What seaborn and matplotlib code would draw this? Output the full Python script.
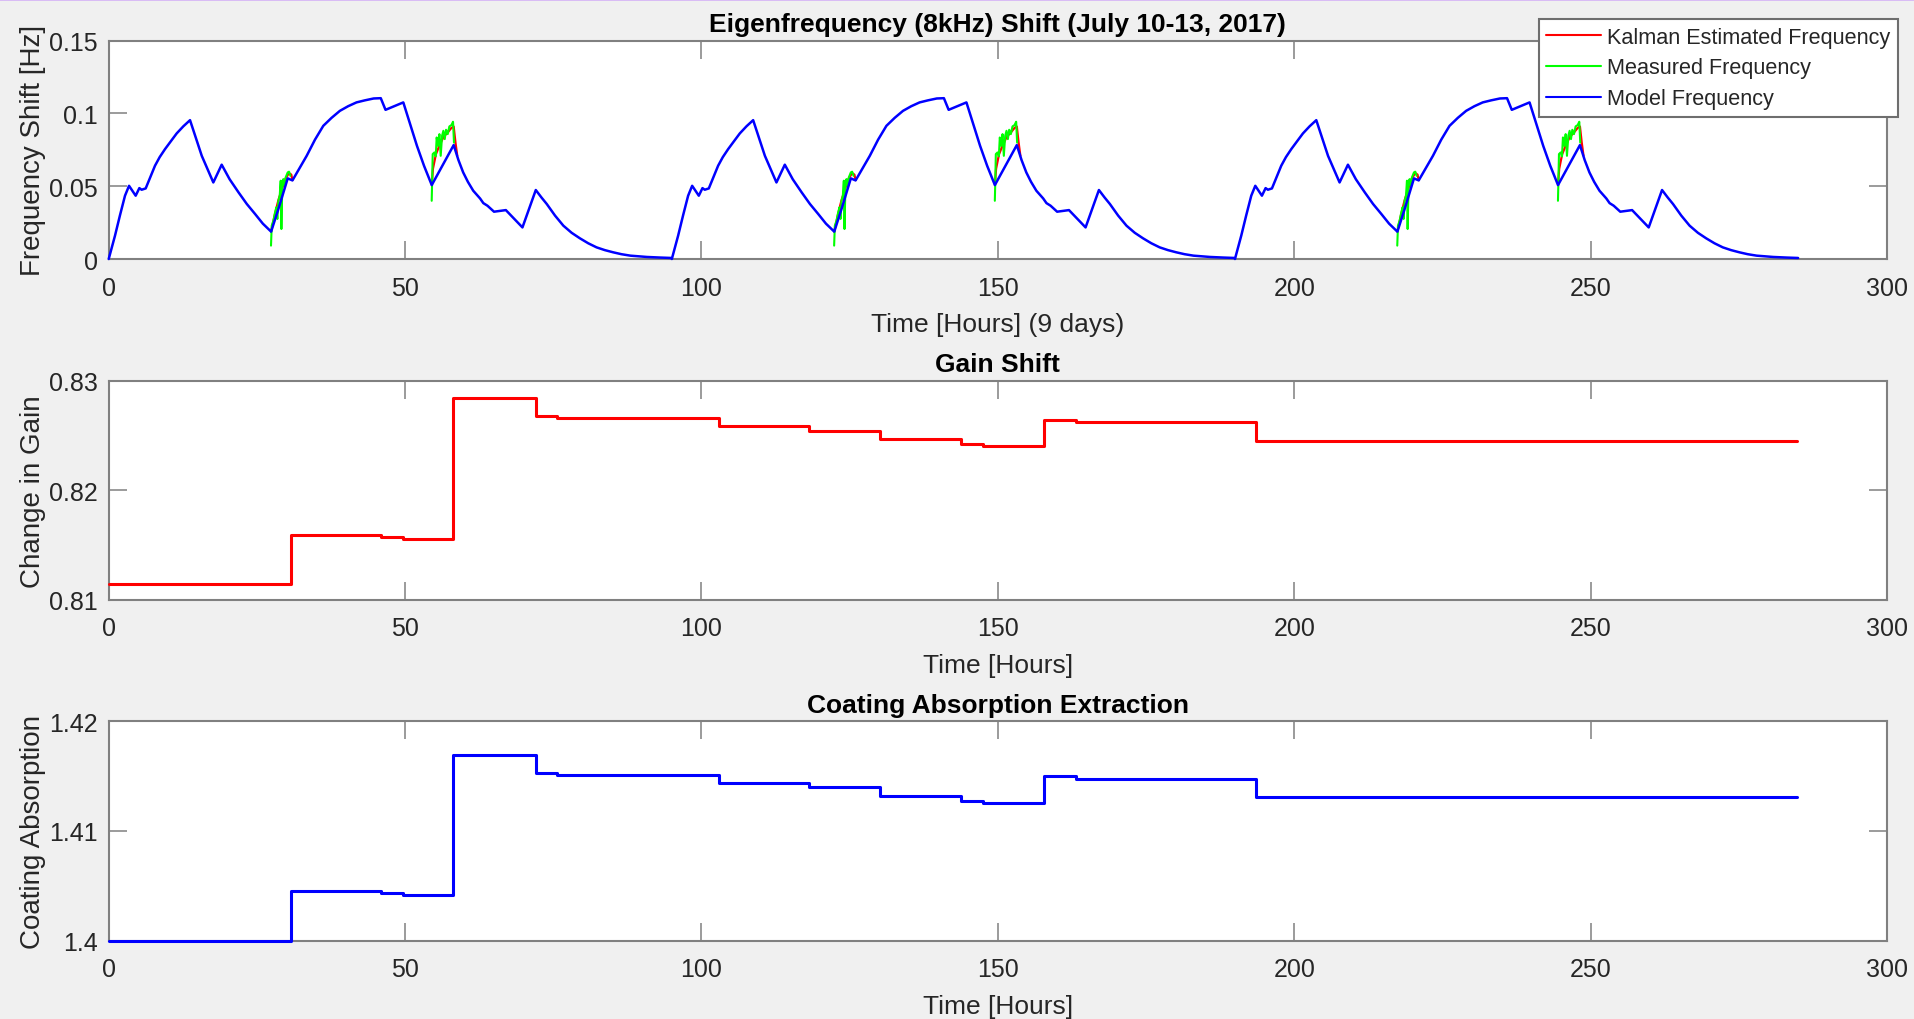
import numpy as np
import pandas as pd
import matplotlib
matplotlib.use("Agg")
import matplotlib.pyplot as plt
import seaborn as sns
from matplotlib.lines import Line2D
from matplotlib.patches import Rectangle

# ---------------------------------------------------------------------------
# Eigenfrequency shift over one 95 h operating cycle (hours from cycle start, Hz)
model_hours = [0.0, 1.06, 1.9, 2.75, 3.43, 4.55, 5.17, 5.56, 6.24, 7.81, 8.6, 9.5,
               10.5, 11.47, 12.6, 13.72, 15.7, 17.65, 19.06, 20.4, 21.9, 23.3,
               24.7, 26.0, 27.4, 28.6, 30.2, 31.0, 33.4, 34.8, 36.2, 37.6, 39.0,
               40.4, 41.8, 43.2, 44.7, 45.9, 46.7, 49.7, 52.0, 53.2, 54.5, 58.2,
               59.0, 59.8, 60.6, 61.5, 62.65, 63.2, 63.9, 65.0, 67.0, 69.8, 72.05,
               73.0, 73.9, 75.3, 76.7, 78.1, 79.5, 80.9, 82.3, 83.7, 85.1, 86.5,
               88.0, 90.8, 93.0, 95.0]
model_shift = [0.0, 0.016, 0.030, 0.0435, 0.0503, 0.0435, 0.0487, 0.0476, 0.0485,
               0.0641, 0.070, 0.0755, 0.081, 0.0863, 0.0912, 0.0954, 0.0709,
               0.0526, 0.0648, 0.0548, 0.0458, 0.0378, 0.0309, 0.0243, 0.0188,
               0.034, 0.0554, 0.0540, 0.0709, 0.082, 0.0915, 0.097, 0.1018,
               0.105, 0.1076, 0.109, 0.1103, 0.1105, 0.1025, 0.1076, 0.0778,
               0.064, 0.0508, 0.0783, 0.068, 0.0595, 0.053, 0.0469, 0.0416,
               0.0384, 0.0366, 0.0325, 0.0336, 0.0217, 0.0474, 0.0423, 0.0378,
               0.0298, 0.0229, 0.0180, 0.0142, 0.0108, 0.0080, 0.0061, 0.0046,
               0.0033, 0.0023, 0.0014, 0.0010, 0.0007]

# Measured eigenfrequency in the two measurement windows of a cycle
measured_hours_1 = [27.38, 27.5, 27.78, 28.06, 28.28, 28.45, 28.62, 28.85, 29.02,
                    29.13, 29.3, 29.46, 29.64, 29.86, 30.2, 30.42, 30.65]
measured_shift_1 = [0.0092, 0.0229, 0.0263, 0.032, 0.0355, 0.0275, 0.040, 0.0435,
                    0.0538, 0.0206, 0.0526, 0.0549, 0.0503, 0.0561, 0.0595, 0.060,
                    0.0572]
measured_hours_2 = [54.49, 54.55, 54.66, 54.94, 55.17, 55.33, 55.56, 55.79, 56.01,
                    56.24, 56.46, 56.69, 56.91, 57.19, 57.47, 57.81, 58.09, 58.25]
measured_shift_2 = [0.040, 0.0503, 0.0721, 0.0732, 0.0705, 0.0835, 0.0778, 0.0858,
                    0.0709, 0.0847, 0.0881, 0.0824, 0.0888, 0.0858, 0.0911, 0.092,
                    0.0943, 0.080]

# Kalman estimate where it departs from the model
kalman_hours_1 = [27.4, 28.0, 28.6, 29.2, 29.8, 30.4, 30.8, 31.0]
kalman_shift_1 = [0.0188, 0.030, 0.040, 0.048, 0.055, 0.059, 0.058, 0.0542]
kalman_hours_2 = [54.5, 54.7, 55.2, 55.8, 56.5, 57.2, 57.8, 58.2, 58.5, 58.8]
kalman_shift_2 = [0.0508, 0.062, 0.072, 0.078, 0.084, 0.087, 0.090, 0.091, 0.080,
                  0.071]

cycle_starts = [0.0, 95.0, 190.0]

# Extracted parameters (piecewise constant, value holds from each change time)
change_hours = [0.0, 30.7, 46.0, 49.6, 58.1, 72.1, 75.6, 103.0, 118.2, 130.2,
                143.8, 147.5, 157.8, 163.1, 193.5, 284.9]
gain_values = [0.8114, 0.8159, 0.8157, 0.81554, 0.82839, 0.82677, 0.82662,
               0.82583, 0.8254, 0.82467, 0.82422, 0.82403, 0.82644, 0.8262,
               0.82452, 0.82452]
absorption_values = [1.4000, 1.40453, 1.40432, 1.40413, 1.41693, 1.41529, 1.41514,
                     1.41438, 1.41398, 1.41319, 1.41277, 1.41255, 1.41498, 1.41477,
                     1.41310, 1.41310]

x_ticks = [0, 50, 100, 150, 200, 250, 300]
freq_ticks = [0, 0.05, 0.1, 0.15]
freq_tick_labels = ["0", "0.05", "0.1", "0.15"]
gain_ticks = [0.81, 0.82, 0.83]
gain_tick_labels = ["0.81", "0.82", "0.83"]
abs_ticks = [1.40, 1.41, 1.42]
abs_tick_labels = ["1.4", "1.41", "1.42"]

# ---------------------------------------------------------------------------
def cycles(hours, values):
    frames = []
    for k, start in enumerate(cycle_starts):
        frames.append(pd.DataFrame({"hours": np.asarray(hours) + start,
                                    "value": values, "segment": k}))
    return pd.concat(frames, ignore_index=True)


model_df = cycles(model_hours, model_shift)
measured_df = pd.concat([cycles(measured_hours_1, measured_shift_1).assign(win=1),
                         cycles(measured_hours_2, measured_shift_2).assign(win=2)],
                        ignore_index=True)
measured_df["segment"] = measured_df["segment"] * 2 + measured_df["win"]
kalman_df = pd.concat([cycles(kalman_hours_1, kalman_shift_1).assign(win=1),
                       cycles(kalman_hours_2, kalman_shift_2).assign(win=2)],
                      ignore_index=True)
kalman_df["segment"] = kalman_df["segment"] * 2 + kalman_df["win"]
param_df = pd.DataFrame({"hours": change_hours, "gain": gain_values,
                         "absorption": absorption_values})

# ---------------------------------------------------------------------------
sns.set_theme(style="white")
plt.rcParams["font.family"] = ["Liberation Sans", "DejaVu Sans"]

BG = "#F0F0F0"
EDGE = "#808080"
TEXT = "#262626"
W, H = 1915, 1020

fig = plt.figure(figsize=(W / 100, H / 100), dpi=100, facecolor=BG)
fig.add_artist(Rectangle((0, 1 - 2 / H), 1, 2 / H, transform=fig.transFigure,
                         facecolor="#D9BCF5", edgecolor="none"))

left, width = 108.7 / W, (1887 - 108.7) / W


def make_axes(top_px, bottom_px):
    return fig.add_axes([left, 1 - bottom_px / H, width, (bottom_px - top_px) / H])


ax1 = make_axes(41.7, 260.0)
ax2 = make_axes(381.7, 600.7)
ax3 = make_axes(722.3, 941.7)


def style(ax, yticks, ylabels, ylim, title, xlabel, ylabel):
    ax.set_facecolor("white")
    ax.set_xlim(0, 300)
    ax.set_ylim(*ylim)
    ax.set_xticks(x_ticks, [str(v) for v in x_ticks])
    ax.set_yticks(yticks, ylabels)
    ax.tick_params(which="both", direction="in", length=13, width=1.1, color=EDGE,
                   top=True, right=True, bottom=True, left=True,
                   labelsize=18, labelcolor=TEXT)
    ax.tick_params(axis="x", pad=12)
    ax.tick_params(axis="y", pad=8)
    for sp in ax.spines.values():
        sp.set_visible(True)
        sp.set_color(EDGE)
        sp.set_linewidth(1.5)
    ax.set_title(title, fontsize=19, fontweight="bold", color="black", pad=7)
    ax.set_xlabel(xlabel, fontsize=19, color=TEXT)
    ax.set_ylabel(ylabel, fontsize=20, color=TEXT)
    ax.xaxis.set_label_coords(0.5, -0.243)
    ax.yaxis.set_label_coords(-0.035, 0.5)


# Top panel: eigenfrequency shift
sns.lineplot(data=kalman_df, x="hours", y="value", units="segment", estimator=None,
             sort=False, color="#FF0000", lw=1.6, ax=ax1, legend=False)
sns.lineplot(data=measured_df, x="hours", y="value", units="segment", estimator=None,
             sort=False, color="#00FF00", lw=1.5, ax=ax1, legend=False)
sns.lineplot(data=model_df, x="hours", y="value", units="segment", estimator=None,
             sort=False, color="#0000FF", lw=1.8, ax=ax1, legend=False,
             clip_on=False, zorder=3)
style(ax1, freq_ticks, freq_tick_labels, (0, 0.15),
      "Eigenfrequency (8kHz) Shift (July 10-13, 2017)",
      "Time [Hours] (9 days)", "Frequency Shift [Hz]")

handles = [Line2D([], [], color="#FF0000", lw=1.5),
           Line2D([], [], color="#00FF00", lw=1.5),
           Line2D([], [], color="#0000FF", lw=1.5)]
leg = fig.legend(handles, ["Kalman Estimated Frequency", "Measured Frequency",
                           "Model Frequency"],
                 loc="upper right", bbox_to_anchor=(1898 / W, 1 - 20.0 / H),
                 bbox_transform=fig.transFigure, borderaxespad=0, fontsize=15.6,
                 frameon=True, fancybox=False, framealpha=1, handlelength=2.5,
                 handletextpad=0.3, labelspacing=0.45, borderpad=0.35)
leg.set_zorder(10)
leg.get_frame().set_edgecolor("#6E6E6E")
leg.get_frame().set_linewidth(1.5)
for t in leg.get_texts():
    t.set_color(TEXT)

# Middle panel: gain
sns.lineplot(data=param_df, x="hours", y="gain", estimator=None, sort=False,
             drawstyle="steps-post", color="#FF0000", lw=2.2, ax=ax2,
             clip_on=False, zorder=3)
style(ax2, gain_ticks, gain_tick_labels, (0.81, 0.83), "Gain Shift",
      "Time [Hours]", "Change in Gain")

# Bottom panel: coating absorption
sns.lineplot(data=param_df, x="hours", y="absorption", estimator=None, sort=False,
             drawstyle="steps-post", color="#0000FF", lw=2.2, ax=ax3,
             clip_on=False, zorder=3)
style(ax3, abs_ticks, abs_tick_labels, (1.40, 1.42),
      "Coating Absorption Extraction", "Time [Hours]", "Coating Absorption")

fig.savefig("out.png", dpi=100, facecolor=BG)
